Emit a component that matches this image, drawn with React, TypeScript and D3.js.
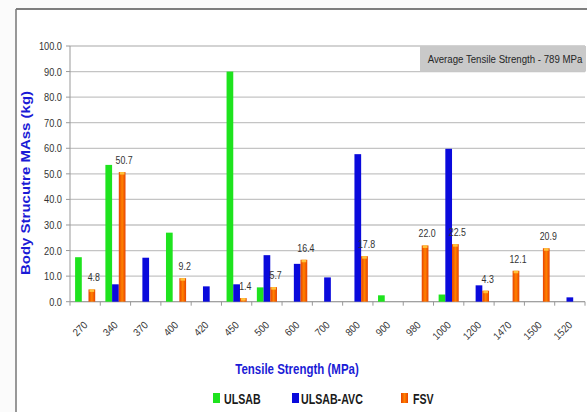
import React from "react";
import * as d3 from "d3";

// Tensile strength grades (MPa) along the x axis
const categories = ["270", "340", "370", "400", "420", "450", "500", "600", "700", "800", "900", "980", "1000", "1200", "1470", "1500", "1520"];

// Body structure mass (kg) per steel grade, for each programme
const ulsab = [17.4, 53.5, 0, 27.0, 0, 90.0, 5.6, 0, 0, 0, 2.5, 0, 2.8, 0, 0, 0, 0];
const ulsabAvc = [0, 6.8, 17.2, 0, 6.0, 6.8, 18.2, 14.8, 9.5, 57.7, 0, 0, 59.8, 6.4, 0, 0, 1.7];
const fsv = [4.8, 50.7, 0, 9.2, 0, 1.4, 5.7, 16.4, 0, 17.8, 0, 22.0, 22.5, 4.3, 12.1, 20.9, 0];

const seriesNames = ["ULSAB", "ULSAB-AVC", "FSV"];
const yTicks = [0, 10, 20, 30, 40, 50, 60, 70, 80, 90, 100];

const W = 587;
const H = 412;
const left = 70;
const right = 585;
const top = 46;
const bottom = 301.7;
const SX = 0.84; // horizontal squeeze applied to text

const FONT = "'Liberation Sans', Arial, sans-serif";

export default function App() {
  const x = d3.scaleBand<string>().domain(categories).range([left, right]).padding(0);
  const inner = d3
    .scaleBand<string>()
    .domain(seriesNames)
    .range([0, x.bandwidth()])
    .paddingInner(0)
    .paddingOuter(0.76);
  const y = d3.scaleLinear().domain([0, 100]).range([bottom, top]);

  const series = [
    { name: "ULSAB", values: ulsab, fill: "#1ee31e" },
    { name: "ULSAB-AVC", values: ulsabAvc, fill: "#0a0adc" },
    { name: "FSV", values: fsv, fill: "url(#fsvGrad)" },
  ];

  const bw = inner.bandwidth();

  return (
    <svg width={W} height={H} style={{ position: "absolute", left: 0, top: 0, background: "#fff" }}>
      <defs>
        <linearGradient id="fsvGrad" x1="0" x2="1" y1="0" y2="0">
          <stop offset="0%" stopColor="#e84200" />
          <stop offset="50%" stopColor="#ff8200" />
          <stop offset="100%" stopColor="#e84200" />
        </linearGradient>
      </defs>
      <rect x={0} y={0} width={W} height={H} fill="#fbfbfb" />
      <rect x={16} y={9} width={W - 16} height={H - 9} fill="#ffffff" />
      {/* outer frame */}
      <line x1={16} x2={W} y1={9} y2={9} stroke="#555" strokeWidth={1.5} />
      <line x1={16} x2={16} y1={9} y2={H} stroke="#777" strokeWidth={1.5} />

      {/* gridlines */}
      {yTicks.map((t) => (
        <line key={"g" + t} x1={left} x2={right} y1={y(t)} y2={y(t)} stroke="#c4c4c4" strokeWidth={1.3} />
      ))}

      {/* annotation box */}
      <rect x={420} y={y(100)} width={586 - 420} height={y(90) - y(100)} fill="#c9c9c9" />
      <text
        transform={`translate(505,${(y(100) + y(90)) / 2 + 4}) scale(${SX},1)`}
        textAnchor="middle"
        fontFamily={FONT}
        fontSize={11.5}
        fill="#262626"
      >
        Average Tensile Strength - 789 MPa
      </text>

      {/* y axis */}
      <line x1={left} x2={left} y1={top} y2={bottom} stroke="#999" />
      {yTicks.map((t) => (
        <g key={"y" + t}>
          <line x1={left - 4} x2={left} y1={y(t)} y2={y(t)} stroke="#999" />
          <text
            transform={`translate(62,${y(t) + 4}) scale(${SX},1)`}
            textAnchor="end"
            fontFamily={FONT}
            fontSize={11}
            fill="#333"
          >
            {t.toFixed(1)}
          </text>
        </g>
      ))}

      {/* x axis */}
      <line x1={left} x2={right} y1={bottom} y2={bottom} stroke="#999" />
      {categories.map((c, i) => (
        <line key={"xt" + i} x1={x(c)!} x2={x(c)!} y1={bottom} y2={bottom + 4} stroke="#999" />
      ))}
      <line x1={right} x2={right} y1={bottom} y2={bottom + 4} stroke="#999" />
      {categories.map((c) => (
        <text
          key={"xl" + c}
          transform={`translate(${x(c)! + x.bandwidth() / 2 + 3},${bottom + 24}) rotate(-45) scale(0.9,1)`}
          textAnchor="end"
          fontFamily={FONT}
          fontSize={10.5}
          fill="#333"
        >
          {c}
        </text>
      ))}

      {/* bars */}
      {series.map((s) =>
        s.values.map((v, i) => {
          if (!v) return null;
          const bx = x(categories[i])! + inner(s.name)!;
          return (
            <g key={s.name + i}>
              <rect x={bx} y={y(v)} width={bw} height={bottom - y(v)} fill={s.fill} />
              {s.name === "FSV" && (
                <rect x={bx + 1} y={y(v)} width={bw - 2} height={Math.min(2.5, bottom - y(v))} fill="#ffc23a" />
              )}
            </g>
          );
        })
      )}

      {/* FSV value labels */}
      {fsv.map((v, i) => {
        if (!v) return null;
        const cx = x(categories[i])! + inner("FSV")! + bw / 2 + 2;
        return (
          <text
            key={"lab" + i}
            transform={`translate(${cx},${y(v) - 8}) scale(${SX},1)`}
            textAnchor="middle"
            fontFamily={FONT}
            fontSize={10.5}
            fill="#333"
          >
            {v.toFixed(1)}
          </text>
        );
      })}

      {/* axis titles */}
      <text
        transform={`translate(27,183) scale(${SX},1) rotate(-90)`}
        textAnchor="middle"
        dominantBaseline="middle"
        fontFamily={FONT}
        fontSize={15}
        fontWeight="bold"
        fill="#1b1bd6"
      >
        Body Strucutre MAss (kg)
      </text>
      <text
        transform={`translate(297,374) scale(0.82,1)`}
        textAnchor="middle"
        fontFamily={FONT}
        fontSize={14}
        fontWeight="bold"
        fill="#1b1bd6"
      >
        Tensile Strength (MPa)
      </text>

      {/* legend */}
      {[
        { name: "ULSAB", fill: "#1ee31e", sx: 213, tx: 224 },
        { name: "ULSAB-AVC", fill: "#0a0adc", sx: 292, tx: 301 },
        { name: "FSV", fill: "url(#fsvGrad)", sx: 401, tx: 413 },
      ].map((l) => (
        <g key={l.name}>
          <rect x={l.sx} y={393} width={7} height={10} fill={l.fill} />
          <text
            transform={`translate(${l.tx},403.5) scale(0.76,1)`}
            fontFamily={FONT}
            fontSize={14}
            fontWeight="bold"
            fill="#1a1a1a"
          >
            {l.name}
          </text>
        </g>
      ))}
    </svg>
  );
}
